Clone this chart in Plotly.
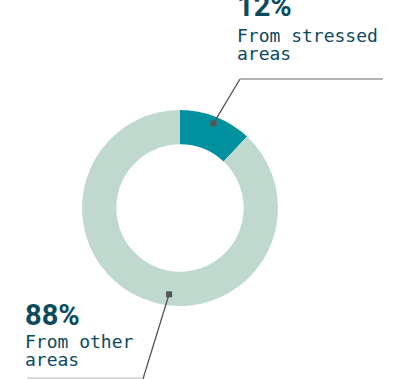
import math
import plotly.graph_objects as go

labels = ["From stressed areas", "From other areas"]
values = [12, 88]
pct_text = ["12%", "88%"]
colors = ["#00909e", "#c0d9ce"]

W, H = 396, 379
cx, cy, R = 180, 208, 98
hole = 0.65

def px(x):
    return x / W

def py(y):
    return 1 - y / H

fig = go.Figure()
fig.add_trace(go.Pie(
    labels=labels, values=values, hole=hole, sort=False, direction="clockwise",
    rotation=0, marker=dict(colors=colors, line=dict(width=0)),
    textinfo="none", hoverinfo="label+percent", showlegend=False,
    domain=dict(x=[px(cx - R), px(cx + R)], y=[py(cy + R), py(cy - R)]),
))

total = sum(values)
# leader dot positions (angle measured clockwise from 12 o'clock)
ang1 = 360 * values[0] / total / 2
ang2 = 360 * values[0] / total + 144
dots = []
for ang, r in [(ang1, 91), (ang2, 87)]:
    a = math.radians(ang)
    dots.append((cx + r * math.sin(a), cy - r * math.cos(a)))

text_color = "#0d4a5e"
line_color = "#555555"
hline_color = "#9a9a9a"
shapes = []
(d1x, d1y), (d2x, d2y) = dots
shapes.append(dict(type="line", xref="paper", yref="paper",
                   x0=px(d1x), y0=py(d1y), x1=px(240), y1=py(79),
                   line=dict(color=line_color, width=1.3)))
shapes.append(dict(type="line", xref="paper", yref="paper",
                   x0=px(240), y0=py(79), x1=px(383), y1=py(79),
                   line=dict(color=hline_color, width=1.3)))
shapes.append(dict(type="line", xref="paper", yref="paper",
                   x0=px(d2x), y0=py(d2y), x1=px(143), y1=py(379),
                   line=dict(color=line_color, width=1.3)))
shapes.append(dict(type="line", xref="paper", yref="paper",
                   x0=px(27), y0=py(378), x1=px(143), y1=py(378),
                   line=dict(color="#cfcfcf", width=1.3)))
for (dx, dy) in dots:
    shapes.append(dict(type="rect", xref="paper", yref="paper",
                       x0=px(dx - 3), x1=px(dx + 3), y0=py(dy + 3), y1=py(dy - 3),
                       fillcolor=line_color, line=dict(width=0)))

big_font = dict(family="Roboto", size=29, color=text_color)
small_font = dict(family="DejaVu Sans Mono", size=18, color=text_color)

annotations = [
    dict(text="<b>" + pct_text[0] + "</b>", x=px(236), y=py(24), xanchor="left", yanchor="bottom"),
    dict(text="From stressed", x=px(236), y=py(24), xanchor="left", yanchor="top", font=small_font),
    dict(text="areas", x=px(236), y=py(42), xanchor="left", yanchor="top", font=small_font),
    dict(text="<b>" + pct_text[1] + "</b>", x=px(24), y=py(333), xanchor="left", yanchor="bottom"),
    dict(text="From other", x=px(24), y=py(330), xanchor="left", yanchor="top", font=small_font),
    dict(text="areas", x=px(24), y=py(348), xanchor="left", yanchor="top", font=small_font),
]
for a in annotations:
    a.update(xref="paper", yref="paper", showarrow=False, borderpad=0)
    a.setdefault("font", big_font)

fig.update_layout(
    width=W, height=H, margin=dict(l=0, r=0, t=0, b=0),
    paper_bgcolor="white", plot_bgcolor="white",
    shapes=shapes, annotations=annotations,
)
fig.write_html("out.html")
